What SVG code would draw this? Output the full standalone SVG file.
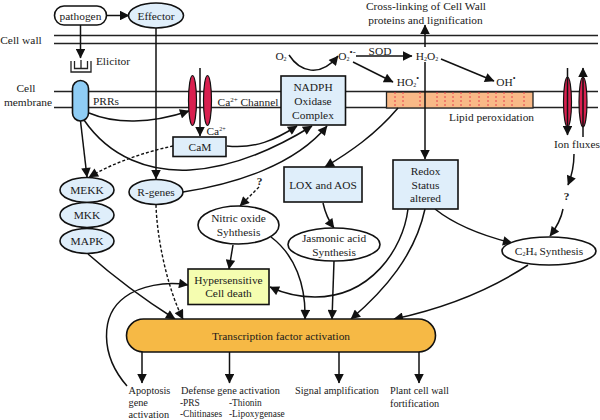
<svg xmlns="http://www.w3.org/2000/svg" width="600" height="420" viewBox="0 0 600 420">
<style>
text{font-family:"Liberation Serif","Times New Roman",serif;font-size:11.4px;fill:#1a1a1a;text-anchor:middle}
.b{font-size:10.3px}
.s{font-size:9.4px}
.l{text-anchor:start}
.n{stroke:#111;stroke-width:1.6}
.blue{fill:#dfeefa}
.white{fill:#fff}
.red{fill:#d9204f;stroke:#111;stroke-width:1.2}
.c{fill:none;stroke:#111;stroke-width:1.5;marker-end:url(#a)}
.d{fill:none;stroke:#111;stroke-width:1.4;stroke-dasharray:3 2;marker-end:url(#a)}
.m{fill:none;stroke:#222;stroke-width:1.3}
</style>
<defs>
<marker id="a" viewBox="0 0 10 10" refX="9.5" refY="5" markerWidth="11" markerHeight="9.5" markerUnits="userSpaceOnUse" orient="auto"><path d="M0 0L10 5L0 10z" fill="#111"/></marker>
</defs>
<rect width="600" height="420" fill="#fff"/>
<g id="membranes">
<path class="m" d="M54 35.500H598M54 43.500H598M54 91.500H598M54 107.500H598"/>
</g>
<g id="lipid-layer">
<rect x="386.500" y="92" width="146.500" height="16" fill="#f9b987" stroke="#222" stroke-width="1.3"/>
<path d="M395 92V108M403 92V108M420 92V108M437 92V108M445 92V108M453 92V108M461 92V108M470 92V108M479 92V108M488 92V108M496 92V108M504 92V108M512 92V108M524 92V108" stroke="#e8404e" stroke-width="1" stroke-dasharray="2 2" fill="none"/>
<text x="491.500" y="121">Lipid peroxidation</text>
</g>
<g id="labels">
<text x="21" y="44">Cell wall</text>
<text x="26" y="92">Cell</text>
<text x="28" y="106">membrane</text>
<text x="113" y="64.500">Elicitor</text>
<text x="106" y="105">PRRs</text>
<text x="248" y="106">Ca<tspan font-size="7" dy="-4">2+</tspan><tspan dy="4"> Channel</tspan></text>
<text x="216" y="135">Ca<tspan font-size="6" dy="-4">2+</tspan></text>
<text x="426" y="10">Cross-linking of Cell Wall</text>
<text x="425.500" y="24">proteins and lignification</text>
<text x="281" y="60">O<tspan font-size="6" dy="1">2</tspan></text>
<text x="347" y="59.500">O<tspan font-size="6" dy="1">2</tspan><tspan font-size="9" dy="-6">•-</tspan></text>
<text x="380" y="55">SOD</text>
<text x="427" y="60">H<tspan font-size="6" dy="1">2</tspan><tspan dy="-1">O</tspan><tspan font-size="6" dy="1">2</tspan></text>
<text x="408" y="86">HO<tspan font-size="6" dy="1">2</tspan><tspan font-size="8" dy="-6">•</tspan></text>
<text x="506" y="86">OH<tspan font-size="8" dy="-5">•</tspan></text>
<text x="577" y="148">Ion fluxes</text>
<text x="566.500" y="200" font-weight="bold">?</text>
<text x="259.500" y="185" font-weight="bold">?</text>
</g>
<g id="connectors">
<path class="c" d="M107 15.500H129"/>
<path class="c" d="M80.500 25V58"/>
<path class="c" d="M156 28V179"/>
<path class="c" d="M200 68V136"/>
<path class="c" d="M89 113C115 124 150 124 189 111"/>
<path class="c" d="M80.500 121L87 177"/>
<path class="d" d="M173 146C145 152 115 162 89 177"/>
<path class="c" d="M84 120C110 158 150 172 190 170C225 168 265 155 312 126"/>
<path class="c" d="M227 146C255 149 275 140 297 126"/>
<path class="c" d="M183 192C235 184 295 165 327 126"/>
<path class="c" d="M88 254C115 278 145 300 175 319"/>
<path class="d" d="M156 205C157 240 168 290 183 319"/>
<path class="c" d="M127 386C100 355 100 315 125 297C140 286 165 281 188 285"/>
<path class="d" d="M259 187L240 206"/>
<path class="c" d="M233 245L229 269"/>
<path class="c" d="M271 237C295 255 306 285 305 319"/>
<path class="c" d="M323 203C325 212 328 220 334 228"/>
<path class="c" d="M334 261L332 319"/>
<path class="c" d="M408 209C403 250 370 297 315 297C300 297 285 294 270 287"/>
<path class="c" d="M425 209C415 255 385 290 351 319"/>
<path class="c" d="M435 209C455 225 480 235 512 243"/>
<path class="c" d="M528 265C490 290 445 308 394 319"/>
<path class="c" d="M142 352V383"/>
<path class="c" d="M229.500 352V383"/>
<path class="c" d="M339 352V383"/>
<path class="c" d="M419 352V383"/>
<path class="c" d="M425 47V25"/>
<path class="c" d="M425 62V159"/>
<path class="c" d="M356 56H412"/>
<path class="c" d="M353 62L393 82"/>
<path class="c" d="M441 59L494 81"/>
<path class="c" d="M289 55C300 72 320 78 338 56"/>
<path class="c" d="M398 108C375 135 350 152 325 167"/>
<path class="c" d="M574 154C574 165 572 175 568 185"/>
<path class="c" d="M563 209C561 220 556 228 550 236"/>
</g>
<g id="pathogen"><rect class="n white" x="54.500" y="6" width="52" height="19" rx="9.500"/><text x="80.500" y="19.500">pathogen</text></g>
<g id="effector"><ellipse class="n blue" cx="156" cy="15.500" rx="27.500" ry="12.500"/><text x="156" y="19.500">Effector</text></g>
<g id="elicitor-receptor"><path d="M71 61V72H91V61M74.500 61V68.500H87.500V61M81 60V68.500" fill="none" stroke="#222" stroke-width="1.300"/></g>
<g id="prrs"><rect class="n" x="72.500" y="80.500" width="16" height="40.500" rx="8" fill="#8fcdf5"/></g>
<g id="ca-channel"><ellipse class="red" cx="192.500" cy="100.500" rx="4" ry="25"/><ellipse class="red" cx="207.500" cy="100.500" rx="4" ry="25"/></g>
<g id="ion-channel"><ellipse class="red" cx="567.500" cy="102" rx="4" ry="25"/><ellipse class="red" cx="583" cy="102" rx="4" ry="25"/><path class="c" d="M567.500 68V135"/><path class="c" d="M583 137V68"/></g>
<g id="cam"><rect class="n blue" x="173" y="137" width="53" height="19.500"/><text x="200" y="151">CaM</text></g>
<g id="nadph"><rect class="n blue" x="281" y="76" width="64.500" height="49"/><text x="313" y="91">NADPH</text><text x="313" y="105">Oxidase</text><text x="313" y="119">Complex</text></g>
<g id="mekk"><ellipse class="n blue" cx="87" cy="190" rx="27" ry="12.500"/><text x="87" y="194">MEKK</text></g>
<g id="mkk"><ellipse class="n blue" cx="87" cy="215" rx="27" ry="12.500"/><text x="87" y="219">MKK</text></g>
<g id="mapk"><ellipse class="n blue" cx="87" cy="241" rx="27" ry="12.500"/><text x="87" y="245">MAPK</text></g>
<g id="r-genes"><ellipse class="n blue" cx="156" cy="192" rx="27" ry="12.500"/><text x="156" y="196">R-genes</text></g>
<g id="lox"><rect class="n blue" x="284" y="167" width="78" height="35"/><text x="323" y="188.500">LOX and AOS</text></g>
<g id="redox"><rect class="n blue" x="393" y="160" width="65" height="49"/><text x="425.500" y="175">Redox</text><text x="425.500" y="189">Status</text><text x="425.500" y="202">altered</text></g>
<g id="nitric"><ellipse class="n white" cx="238.500" cy="225" rx="40.500" ry="19"/><text x="238.500" y="222">Nitric oxide</text><text x="238.500" y="236">Syhthesis</text></g>
<g id="jasmonic"><ellipse class="n white" cx="334" cy="244.500" rx="46" ry="16.500"/><text x="334" y="241.500">Jasmonic acid</text><text x="334" y="255.500">Synthesis</text></g>
<g id="c2h4"><ellipse class="n white" cx="549" cy="251" rx="47" ry="14"/><text x="549" y="255">C<tspan font-size="6" dy="1">2</tspan><tspan dy="-1">H</tspan><tspan font-size="6" dy="1">4</tspan><tspan dy="-1"> Synthesis</tspan></text></g>
<g id="hypersensitive"><rect class="n" x="188" y="269" width="81" height="35.500" fill="#f5fdb0"/><text x="228.500" y="283.500">Hypersensitive</text><text x="228.500" y="297">Cell death</text></g>
<g id="transcription"><rect class="n" x="126.500" y="319" width="309" height="33" rx="17" fill="#f6b945"/><text x="281" y="339.500">Transcription factor activation</text></g>
<g id="outputs">
<text class="l b" x="128.500" y="394">Apoptosis</text><text class="l b" x="128.500" y="406">gene</text><text class="l b" x="128.500" y="418">activation</text>
<text class="l b" x="181" y="394">Defense gene activation</text>
<text class="l s" x="180" y="406">-PRS</text><text class="l s" x="180" y="417">-Chitinases</text>
<text class="l s" x="229" y="406">-Thionin</text><text class="l s" x="229" y="417">-Lipoxygenase</text>
<text class="l b" x="295" y="394">Signal amplification</text>
<text class="l b" x="390" y="394">Plant cell wall</text><text class="l b" x="390" y="406.500">fortification</text>
</g>
</svg>
